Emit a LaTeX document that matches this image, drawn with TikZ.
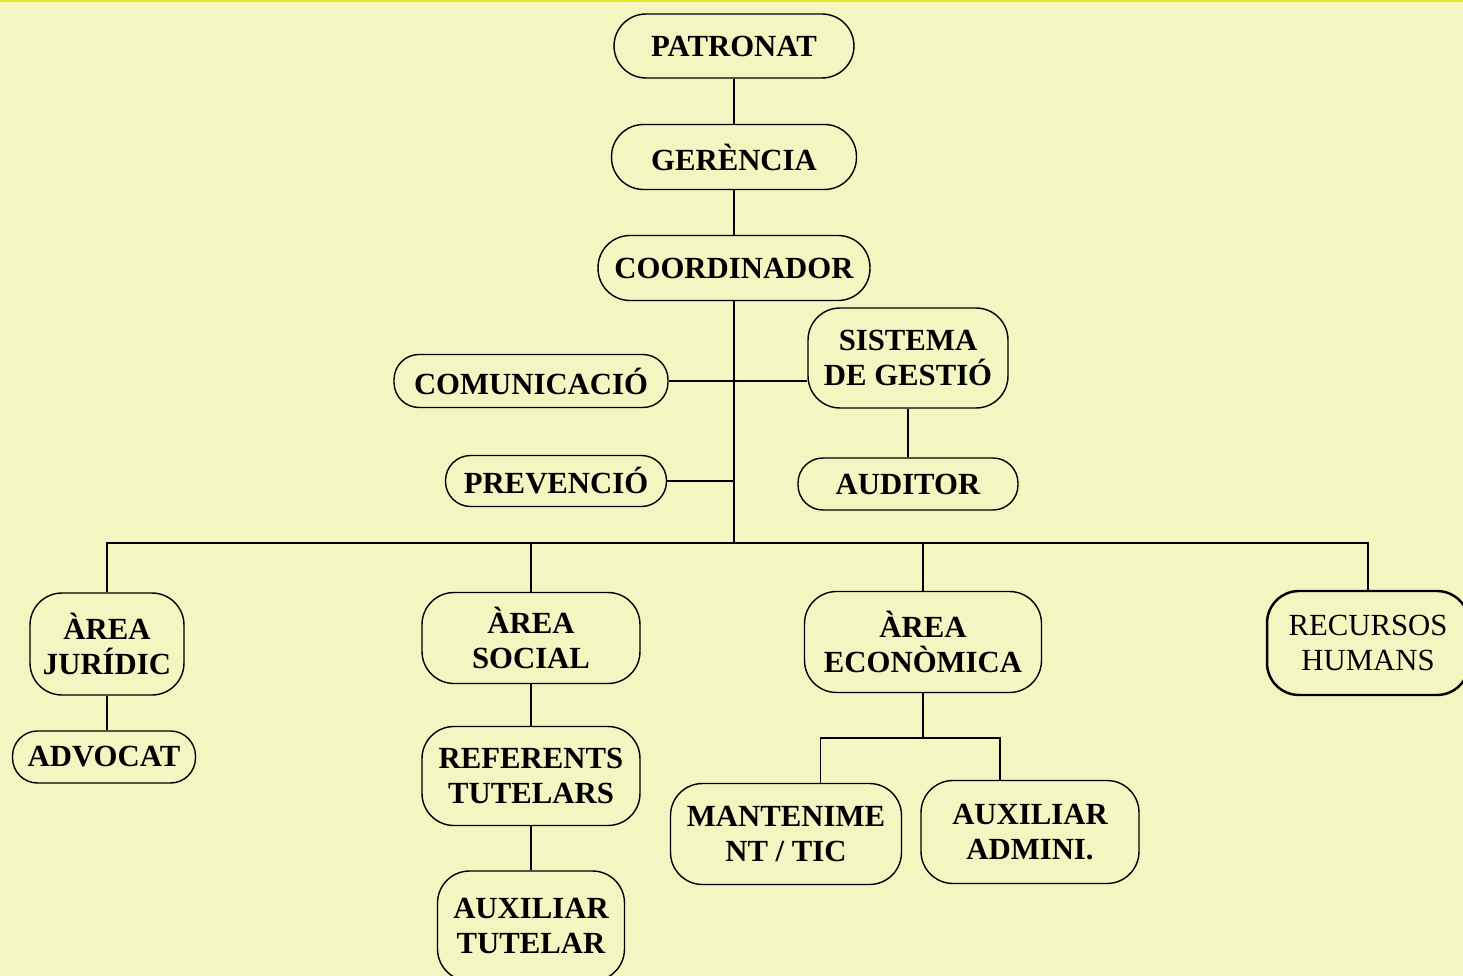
\documentclass[tikz,border=0pt]{standalone}
\usepackage{fontspec}
\setmainfont{Liberation Serif}
\usepackage{tikz}
\definecolor{bgyellow}{RGB}{243,246,193}
\definecolor{edgeyellow}{RGB}{226,232,40}

\begin{document}
\begin{tikzpicture}[x=0.02cm, y=-0.02cm, line width=0.8pt,
  main/.style = {draw, rounded corners=0.64cm, align=center, inner sep=1pt, font=\bfseries\fontsize{17.5}{19.5}\selectfont},
  pill/.style = {main, rounded corners=0.5cm},
  plain/.style = {main, line width=1.4pt, font=\fontsize{17.5}{19.5}\selectfont}]
\fill[bgyellow] (0,0) rectangle (1463,976);
\fill[edgeyellow] (0,0) rectangle (1463,2);
\clip (0,0) rectangle (1463,976);
% top of the chart
\node[main, minimum width=4.8cm, minimum height=1.28cm] (pat) at (734,46) {PATRONAT};
\node[main, minimum width=4.9cm, minimum height=1.3cm] (ger) at (734,157) {GERÈNCIA};
\node[main, minimum width=5.44cm, minimum height=1.3cm] (coord) at (734,268) {COORDINADOR};
\node[main, minimum width=4cm, minimum height=2cm] (sis) at (908,358) {SISTEMA\\DE GESTIÓ};
\node[pill, minimum width=5.48cm, minimum height=1.06cm] (com) at (531,381) {COMUNICACIÓ};
\node[pill, minimum width=4.42cm, minimum height=1.02cm] (prev) at (556,481) {PREVENCIÓ};
\node[pill, minimum width=4.4cm, minimum height=1.04cm] (aud) at (908,484) {AUDITOR};
\coordinate (bus) at (734,543);
% areas
\node[main, minimum width=3.08cm, minimum height=2.04cm] (jur) at (107,644) {ÀREA\\JURÍDIC};
\node[pill, minimum width=3.66cm, minimum height=1.04cm] (adv) at (104,757) {ADVOCAT};
\node[main, minimum width=4.36cm, minimum height=1.82cm] (soc) at (531,638) {ÀREA\\SOCIAL};
\node[main, minimum width=4.36cm, minimum height=1.98cm] (ref) at (531,776) {REFERENTS\\TUTELARS};
\node[main, minimum width=3.74cm, minimum height=2.2cm] (auxt) at (531,926) {AUXILIAR\\TUTELAR};
\node[main, minimum width=4.74cm, minimum height=2.02cm] (eco) at (923,642) {ÀREA\\ECONÒMICA};
\node[main, minimum width=4.62cm, minimum height=2.02cm] (mant) at (786,834) {MANTENIME\\NT / TIC};
\node[main, minimum width=4.36cm, minimum height=2.06cm] (adm) at (1030,832) {AUXILIAR\\ADMINI.};
\node[plain, minimum width=4.04cm, minimum height=2.08cm] (rec) at (1368,643) {RECURSOS\\HUMANS};
\coordinate (split) at (923,738);

\draw (pat) -- (ger);
\draw (ger) -- (coord);
\draw (coord) -- (bus);
\draw (com.east) -- (com.east -| sis.west);
\draw (prev.east) -- (prev.east -| bus);
\draw (sis) -- (aud);
\draw (jur.north) |- (bus) -| (rec.north);
\draw (soc.north) -- (soc.north |- bus);
\draw (eco.north) -- (eco.north |- bus);
\draw (jur.south) -- (jur.south |- adv.north);
\draw (soc) -- (ref);
\draw (ref) -- (auxt);
\draw (eco) -- (split);
\draw (mant.56) |- (split) -| (adm.120);
\end{tikzpicture}
\end{document}
